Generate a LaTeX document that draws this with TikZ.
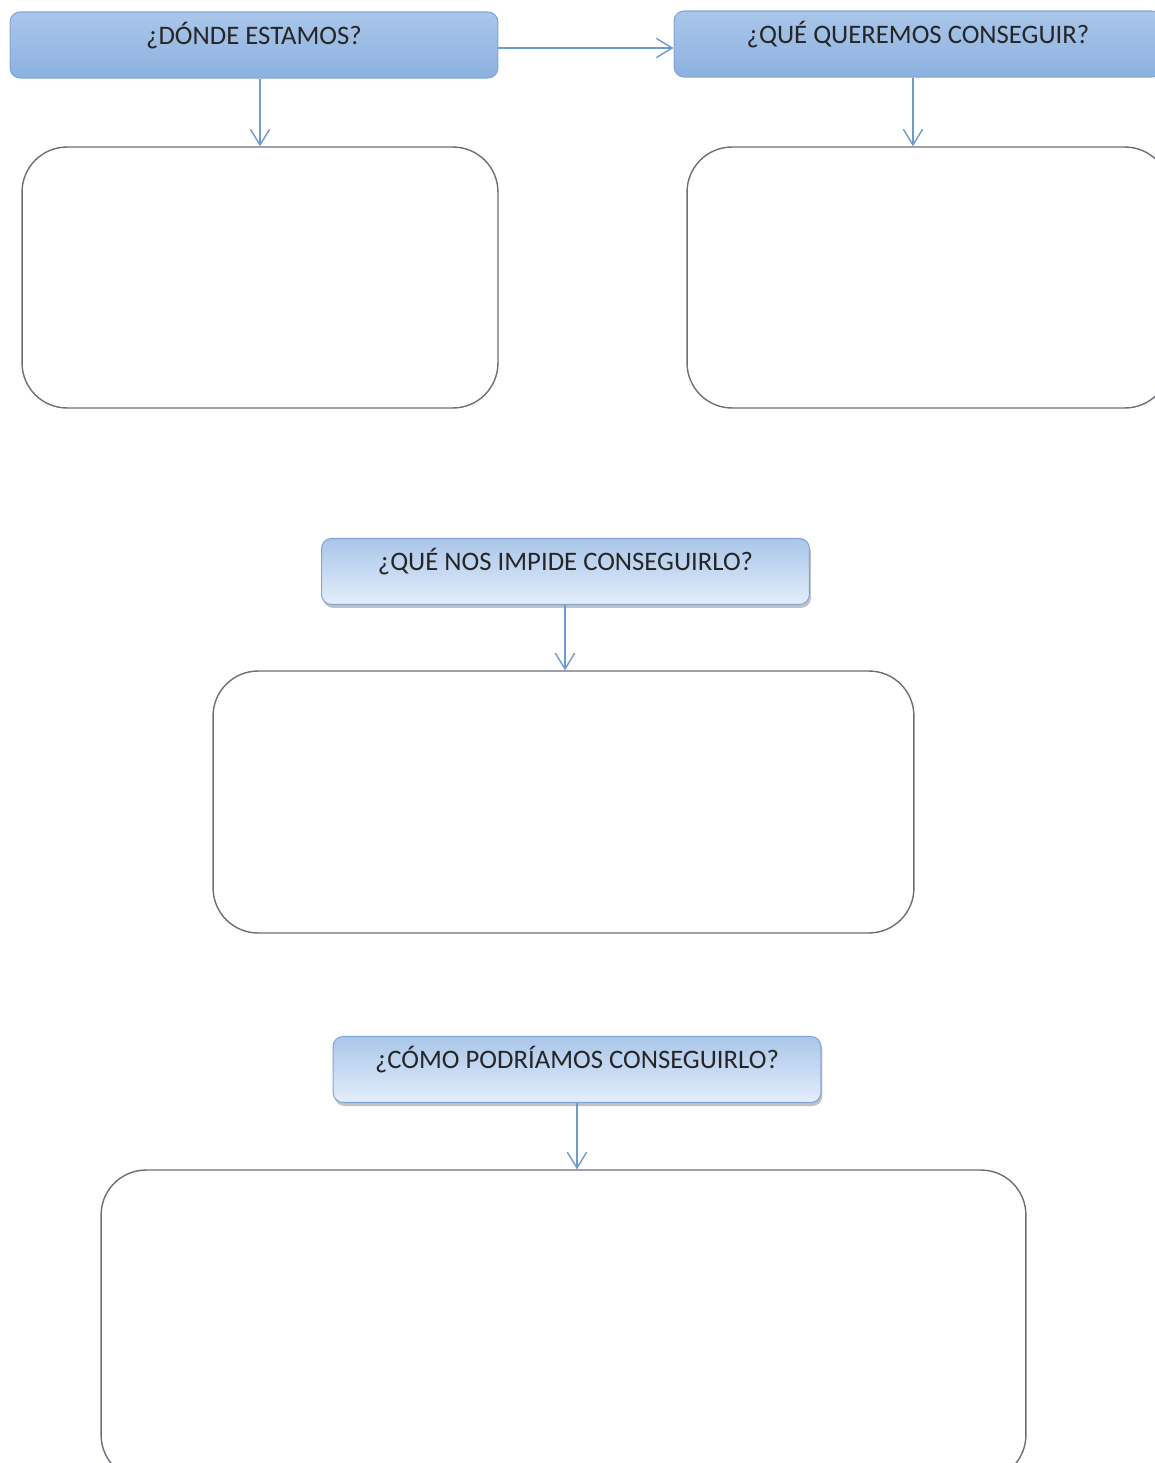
\documentclass[tikz,border=0pt]{standalone}
\usepackage{fontspec}
\setmainfont{Carlito}
\usetikzlibrary{arrows.meta, shadows}

\definecolor{hdrtop}{HTML}{AAC6EA}
\definecolor{hdrbot}{HTML}{8CB1DF}
\definecolor{hdrline}{HTML}{7FA6D6}
\definecolor{pale}{HTML}{E4EDFB}
\definecolor{arrowblue}{HTML}{6C9BD2}
\definecolor{boxline}{HTML}{6A7079}

\tikzset{
  header/.style={draw=hdrline, line width=0.6pt, rounded corners=0.2cm,
    top color=hdrtop, bottom color=hdrbot, minimum width=9.76cm,
    minimum height=1.32cm, font=\fontsize{15.2}{18}\selectfont,
    text height=10pt, text depth=11pt, inner sep=0pt, text=black!85},
  question/.style={header, top color=hdrtop, bottom color=pale,
    drop shadow={shadow xshift=0.03cm, shadow yshift=-0.07cm,
      fill=black!60, opacity=0.4}},
  answer/.style={draw=boxline, line width=0.8pt, rounded corners=0.9cm, fill=white},
  link/.style={draw=arrowblue, line width=0.8pt,
    -{Straight Barb[length=9pt,width=11pt]}}
}

\begin{document}
\begin{tikzpicture}[x=0.02cm, y=-0.02cm]
 \useasboundingbox (0,0) rectangle (1155,1463);
 % first row
 \node[header] (donde) at (254,45) {¿DÓNDE ESTAMOS?};
 \node[header] (que) at (918,44) {¿QUÉ QUEREMOS CONSEGUIR?};
 \node[answer, minimum width=9.52cm, minimum height=5.22cm] (bdonde) at (260,277.5) {};
 \node[answer, minimum width=9.66cm, minimum height=5.22cm] (bque) at (928.5,277.5) {};
 \draw[link] (donde.east |- 0,48) -- (que.west |- 0,48);
 \draw[link] (donde.south -| bdonde.north) -- (bdonde.north);
 \draw[link] (que.south -| 913,0) -- (bque.north -| 913,0);
 % second row
 \node[question] (impide) at (565.5,571.5) {¿QUÉ NOS IMPIDE CONSEGUIRLO?};
 \node[answer, minimum width=14.02cm, minimum height=5.24cm] (bimpide) at (563.5,802) {};
 \draw[link] (impide.south -| 565,0) -- (bimpide.north -| 565,0);
 % third row
 \node[question] (como) at (577,1069.5) {¿CÓMO PODRÍAMOS CONSEGUIRLO?};
 \node[answer, minimum width=18.5cm, minimum height=6.2cm] (bcomo) at (563.5,1325) {};
 \draw[link] (como.south -| 577,0) -- (bcomo.north -| 577,0);
\end{tikzpicture}
\end{document}
